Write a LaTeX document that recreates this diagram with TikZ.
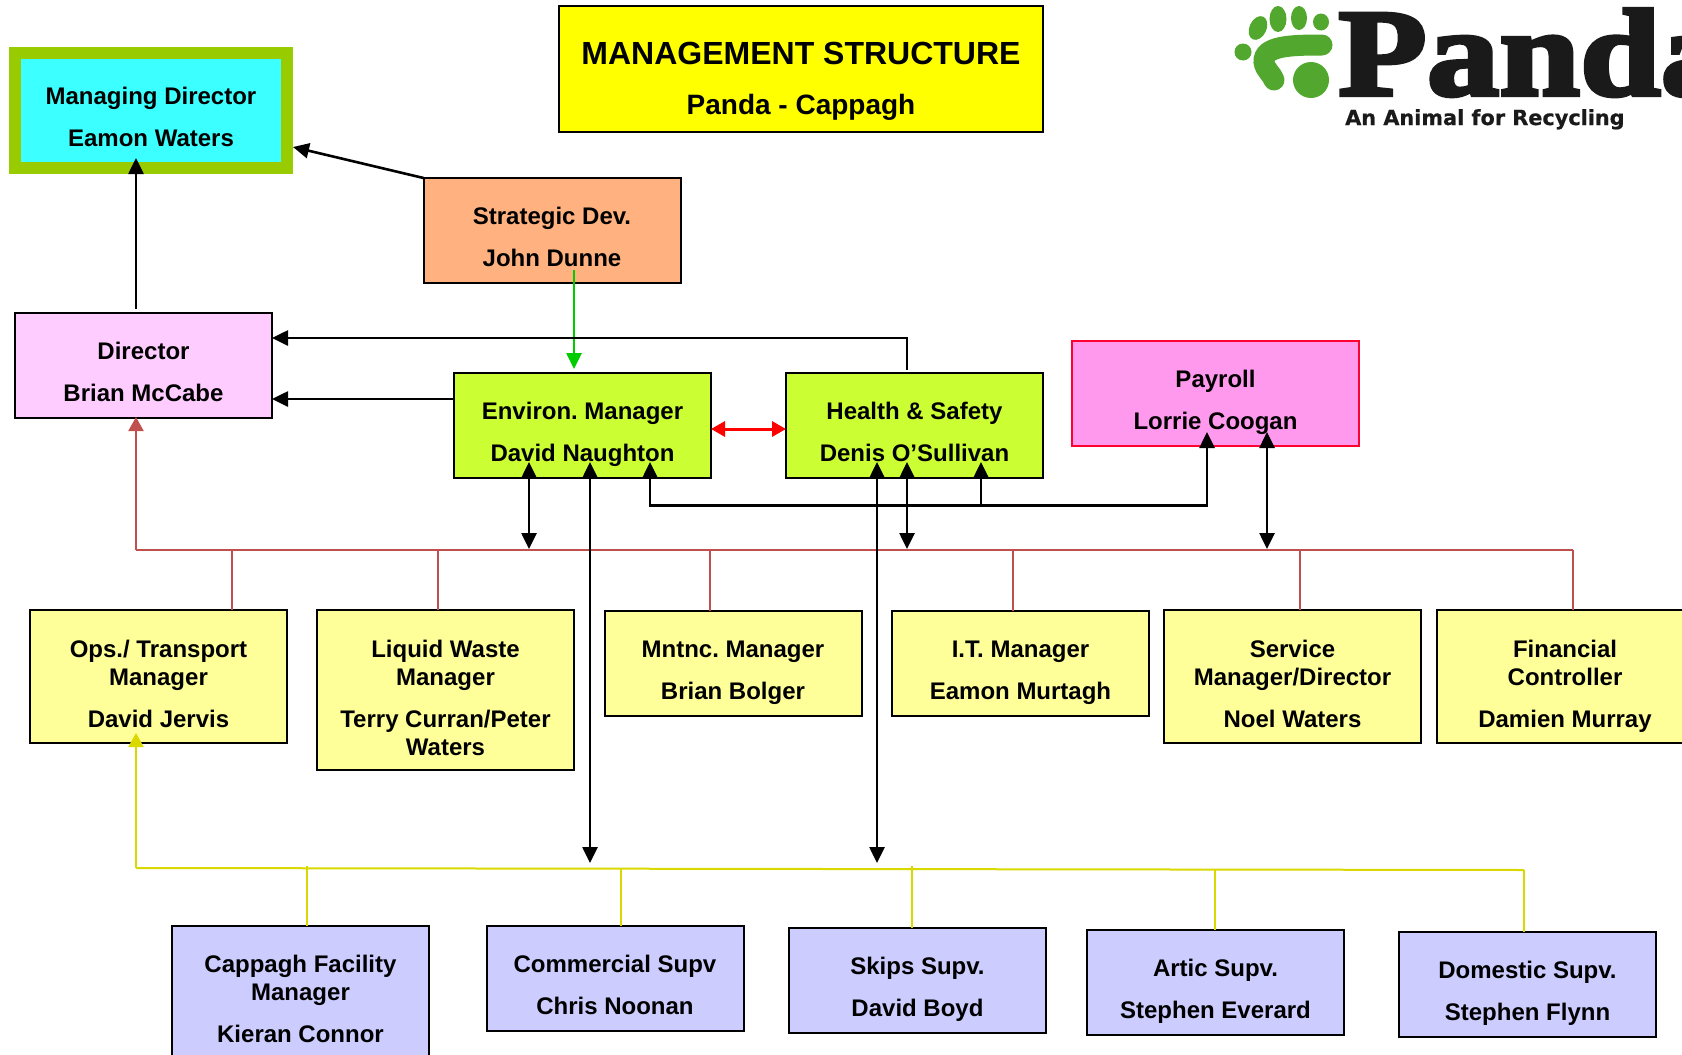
\documentclass[tikz,border=0pt]{standalone}
\usepackage{fontspec}
\setmainfont{Liberation Sans}
\newfontfamily\logoserif[FakeBold=3.5,FakeStretch=1.17]{Liberation Serif}
\newfontfamily\logosans[FakeBold=0.6]{DejaVu Sans}
\usetikzlibrary{arrows.meta}
\definecolor{ttl}{HTML}{FFFF00}
\definecolor{mdfill}{HTML}{3CFFFF}
\definecolor{mdline}{HTML}{99CC00}
\definecolor{strat}{HTML}{FFB27F}
\definecolor{dirf}{HTML}{FFCCFF}
\definecolor{lime}{HTML}{CCFF33}
\definecolor{payf}{HTML}{FF99EE}
\definecolor{payl}{HTML}{FF0033}
\definecolor{ylw}{HTML}{FFFF99}
\definecolor{lav}{HTML}{CCCCFF}
\definecolor{redl}{HTML}{C0504D}
\definecolor{yell}{HTML}{D9D900}
\definecolor{pawg}{HTML}{52A82E}
\definecolor{logok}{HTML}{1A1A1A}
\definecolor{greenl}{HTML}{00CC00}
\newcommand{\nodp}[1]{\raisebox{0pt}[\height][0pt]{#1}}
\newcommand{\tl}[2]{\rule{0pt}{30pt}#1\\[14pt]\nodp{#2}}
\newcommand{\thl}[3]{\rule{0pt}{32pt}#1\\#2\\[14pt]\nodp{#3}}
\newcommand{\fl}[4]{\rule{0pt}{32pt}#1\\#2\\[14pt]#3\\\nodp{#4}}
\frenchspacing
\tikzset{
  box/.style={draw=black,line width=2pt,rectangle,outer sep=0pt,inner sep=0pt,align=center,
    font=\fontsize{24}{28}\selectfont\bfseries\frenchspacing,minimum width=257pt,minimum height=105pt},
  tall/.style={minimum height=133pt},
  arr/.style={line width=2.6pt,draw=black,-{Triangle[length=16pt,width=15pt]}},
  dbl/.style={line width=2.6pt,draw=black,{Triangle[length=16pt,width=15pt]}-{Triangle[length=16pt,width=15pt]}},
  redbus/.style={line width=2pt,draw=redl},
  yelbus/.style={line width=2pt,draw=yell},
  paw/.style={fill=pawg,draw=none}
}
\begin{document}
\begin{tikzpicture}[x=1pt,y=-1pt]
\useasboundingbox (0,0) rectangle (1682,1055);
\clip (0,0) rectangle (1682,1055);
\fill[white] (0,0) rectangle (1682,1055);
% logo
\fill[paw,rotate around={-25:(1258,28)}] (1258,28) ellipse [x radius=8.5,y radius=12.5];
\fill[paw] (1278,19) ellipse [x radius=8.5,y radius=13];
\fill[paw] (1299,18) ellipse [x radius=8,y radius=12];
\fill[paw] (1321,22) ellipse [x radius=8,y radius=8.5];
\fill[paw] (1243,52) circle [radius=8.5];
\fill[paw] (1311,80) circle [radius=18];
\draw[draw=pawg,line width=21pt,line cap=round] (1322,45) .. controls (1290,45) and (1263,46) .. (1264,62) .. controls (1265,70) and (1272,74) .. (1274,80);
\node[anchor=base west,inner sep=0pt,text=logok,font=\logoserif\fontsize{124}{124}\selectfont\bfseries] (logoname) at (1338,95) {Panda};
\node[anchor=base west,inner sep=0pt,text=logok,font=\logosans\fontsize{20.8}{24}\selectfont\bfseries] (logotag) at (1345,125) {An Animal for Recycling};
% boxes
\node[draw=black,line width=2pt,fill=ttl,minimum width=484pt,minimum height=126pt,align=center,outer sep=0pt,inner sep=0pt] (title) at (801,69)
  {\rule{0pt}{41pt}\fontsize{32}{36}\selectfont\bfseries MANAGEMENT STRUCTURE\\[28pt]\fontsize{28}{32}\selectfont\bfseries \nodp{Panda - Cappagh}};
\node[box,draw=mdline,line width=12pt,fill=mdfill,minimum width=272pt,minimum height=115pt] (md) at (151,110) {\tl{Managing Director}{Eamon Waters}};
\node[box,fill=strat] (strat) at (552,230.5) {\tl{Strategic Dev.}{John Dunne}};
\node[box,fill=dirf] (dir) at (143.5,365.5) {\tl{Director}{Brian McCabe}};
\node[box,fill=lime] (env) at (582.5,425.5) {\tl{Environ. Manager}{David Naughton}};
\node[box,fill=lime] (hs) at (914.5,425.5) {\tl{Health \& Safety}{Denis O’Sullivan}};
\node[box,draw=payl,fill=payf,minimum width=287pt] (pay) at (1215.5,393.5) {\tl{Payroll}{Lorrie Coogan}};
\node[box,tall,fill=ylw] (ops) at (158.5,676.5) {\thl{Ops./ Transport}{Manager}{David Jervis}};
\node[box,fill=ylw,minimum height=160pt] (liq) at (445.5,690) {\fl{Liquid Waste}{Manager}{Terry Curran/Peter}{Waters}};
\node[box,fill=ylw] (mnt) at (733,663) {\tl{Mntnc. Manager}{Brian Bolger}};
\node[box,fill=ylw] (it) at (1020.5,663) {\tl{I.T. Manager}{Eamon Murtagh}};
\node[box,tall,fill=ylw] (svc) at (1292.5,676.5) {\thl{Service}{Manager/Director}{Noel Waters}};
\node[box,tall,fill=ylw] (fin) at (1565,676.5) {\thl{Financial}{Controller}{Damien Murray}};
\node[box,fill=lav,minimum height=131pt] (cap) at (300.5,991.5) {\thl{Cappagh Facility}{Manager}{Kieran Connor}};
\node[box,fill=lav] (com) at (615,978.5) {\tl{Commercial Supv}{Chris Noonan}};
\node[box,fill=lav] (skp) at (917.5,980.5) {\tl{Skips Supv.}{David Boyd}};
\node[box,fill=lav] (art) at (1215.5,982.5) {\tl{Artic Supv.}{Stephen Everard}};
\node[box,fill=lav] (dom) at (1527.5,984.5) {\tl{Domestic Supv.}{Stephen Flynn}};
% junction coordinates
\coordinate (redL) at (136,550); \coordinate (redR) at (1573,550);
\coordinate (r1) at (232,550); \coordinate (r2) at (438,550); \coordinate (r3) at (710,550);
\coordinate (r4) at (1013,550); \coordinate (r5) at (1300,550);
\coordinate (yelL) at (136,868); \coordinate (yelR) at (1524,870);
\coordinate (y1) at (307,866); \coordinate (y2) at (621,868); \coordinate (y3) at (912,866);
\coordinate (y4) at (1215,869);
% red bus
\draw[redbus] (redL) -- (redR);
\draw[redbus,-{Triangle[length=14pt,width=15pt]}] (redL) -- (136,417);
\draw[redbus] (r1) -- (r1 |- ops.north);
\draw[redbus] (r2) -- (r2 |- liq.north);
\draw[redbus] (r3) -- (r3 |- mnt.north);
\draw[redbus] (r4) -- (r4 |- it.north);
\draw[redbus] (r5) -- (r5 |- svc.north);
\draw[redbus] (redR) -- (redR |- fin.north);
% yellow bus
\draw[yelbus] (yelL) -- (yelR);
\draw[yelbus,-{Triangle[length=14pt,width=15pt]}] (yelL) -- (136,733);
\draw[yelbus] (y1) -- (y1 |- cap.north);
\draw[yelbus] (y2) -- (y2 |- com.north);
\draw[yelbus] (y3) -- (y3 |- skp.north);
\draw[yelbus] (y4) -- (y4 |- art.north);
\draw[yelbus] (yelR) -- (yelR |- dom.north);
% black connectors
\coordinate (dirup) at (136,309); \coordinate (mdtip) at (136,158);
\draw[arr] (dirup) -- (mdtip);
\coordinate (mdright) at (293,147);
\draw[arr] (strat.north west) -- (mdright);
\coordinate (stratdown) at (574,270); \coordinate (envtop) at (574,369);
\draw[line width=2.6pt,draw=greenl,-{Triangle[length=16pt,width=15pt]}] (stratdown) -- (envtop);
\coordinate (hsup) at (907,370); \coordinate (hscorner) at (907,338); \coordinate (dirtop) at (272,338);
\draw[arr] (hsup) -- (hscorner) -- (dirtop);
\coordinate (envleft) at (453,399); \coordinate (dirbot) at (272,399);
\draw[arr] (envleft) -- (dirbot);
\draw[line width=3pt,draw=red,{Triangle[length=14pt,width=15pt]}-{Triangle[length=14pt,width=15pt]}] (env.east |- 0,429) -- (hs.west |- 0,429);
\coordinate (a1t) at (529,462); \coordinate (a1b) at (529,549);
\coordinate (a2t) at (590,462); \coordinate (a2b) at (590,863);
\coordinate (a3t) at (877,462); \coordinate (a3b) at (877,863);
\coordinate (a4t) at (907,462); \coordinate (a4b) at (907,549);
\coordinate (a5t) at (1267,432); \coordinate (a5b) at (1267,549);
\draw[dbl] (a1t) -- (a1b);
\draw[dbl] (a2t) -- (a2b);
\draw[dbl] (a3t) -- (a3b);
\draw[dbl] (a4t) -- (a4b);
\draw[dbl] (a5t) -- (a5b);
\coordinate (fbL) at (650,505.5); \coordinate (fbR) at (1207,505.5);
\coordinate (envfb) at (650,462); \coordinate (payfb) at (1207,432);
\draw[dbl] (envfb) -- (fbL) -- (fbR) -- (payfb);
\coordinate (hsfbb) at (981,507); \coordinate (hsfb) at (981,462);
\draw[arr] (hsfbb) -- (hsfb);
\end{tikzpicture}
\end{document}
